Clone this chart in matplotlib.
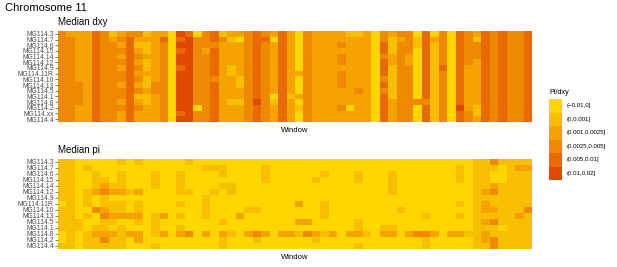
import numpy as np
import matplotlib.pyplot as plt
from matplotlib.colors import ListedColormap, BoundaryNorm
from matplotlib.patches import Rectangle

plt.rcParams['font.family'] = ['Liberation Sans', 'DejaVu Sans']

# levels: 0 (-0.01,0]  1 (0,0.001]  2 (0.001,0.0025]  3 (0.0025,0.005]  4 (0.005,0.01]  5 (0.01,0.02]
bins = ['(\u22120.01,0]', '(0,0.001]', '(0.001,0.0025]',
        '(0.0025,0.005]', '(0.005,0.01]', '(0.01,0.02]']
colors = ['#FFD600', '#F8BE00', '#F5A300', '#EF8A00', '#E96A00', '#E04A00']

dxy_samples = ['MG114.3', 'MG114.7', 'MG114.6', 'MG114.15', 'MG114.14', 'MG114.12',
               'MG114.9', 'MG114.11R', 'MG114.10', 'MG114.13', 'MG114.5', 'MG114.1',
               'MG114.8', 'MG114.2', 'MG114.xx', 'MG114.4']
pi_samples = ['MG114.3', 'MG114.7', 'MG114.6', 'MG114.15', 'MG114.14', 'MG114.12',
              'MG114.9', 'MG114.11R', 'MG114.10', 'MG114.13', 'MG114.5', 'MG114.1',
              'MG114.8', 'MG114.2', 'MG114.4']

# median dxy, one string per window (top sample first)
dxy_windows = [
    "3333333333333333", "2333333333333333", "2222222223333222", "2222222222222222",
    "4444444444444444", "3333333333333333", "1233333333333333", "2323232332332322",
    "3444444444444444", "3212323232312322", "1211211211211222", "2222222223322222",
    "2433333333333333", "0000000000000000", "5454554555555545", "4555555555555555",
    "0333333333333033", "3332333333333333", "4434444434444444", "1322222222222222",
    "2122221122221222", "2022222211221222", "3333333333333333", "4444444444445444",
    "3433333333333333", "2022222222201222", "4444444444444444", "2222222222212222",
    "0000000200020100", "3333333333333333", "2222222222222222", "2222222222222222",
    "2222222222222222", "2232332333222322", "1222222222222022", "1222222222322222",
    "2222222222222222", "0000000000000000", "3344344434344444", "2111221111112222",
    "3233333333333333", "3333223333333333", "0110000000003000", "4444444444443444",
    "0211111111111111", "3333334333333333", "0000000000000000", "4444444444444544",
    "3333332222222233", "2133322222222112", "4444444444444444", "3333333333333333",
    "4444444444444444", "3333333333333333", "3333333333333333", "4444444444444444",
]

# median pi, one string per sample (56 windows, grouped by 8)
pi_rows = [
    "11000001 01000001 00000000 00000000 00000000 00000000 01131111",
    "11010000 00000000 01110000 10000000 00000000 00000001 01110122",
    "11001001 00010010 00010000 10000001 00010001 00000001 01100111",
    "11001101 00010010 00000000 10000010 00010001 00000001 01100111",
    "11001211 00010010 00011000 00000000 00000001 00000000 01121111",
    "11012322 12000011 00101000 00000000 00000001 00000000 01231111",
    "11010100 00000000 01000000 00000000 00000000 00000000 01111111",
    "01010111 01000010 01000000 00002001 00000000 00000001 01211111",
    "11003211 01000000 01000011 00000001 00000000 10000000 01221113",
    "11010322 22012010 01000200 00000001 00000000 00010001 01111121",
    "11100110 01010000 00010000 00002200 00010000 00000000 01231111",
    "11101101 00010010 00000000 00000000 00010011 00000000 01110111",
    "01012221 22012023 02021023 20221321 20221022 02332022 11211111",
    "01011311 02000000 00010001 00000010 00000000 00010000 01231111",
    "11011111 00010000 00010000 00000000 00010000 00010000 01131111",
]

dxy = np.array([[int(c) for c in w] for w in dxy_windows]).T
pi = np.array([[int(c) for c in r.replace(' ', '')] for r in pi_rows])

cmap = ListedColormap(colors)
norm = BoundaryNorm(np.arange(-0.5, 6.5, 1), cmap.N)

W, H = 617, 267
fig = plt.figure(figsize=(W / 100, H / 100), dpi=100)


def panel(top, bottom, data, labels, title):
    ax = fig.add_axes([57.7 / W, 1 - bottom / H, 473.2 / W, (bottom - top) / H])
    n = data.shape[0]
    ax.imshow(data, cmap=cmap, norm=norm, aspect='auto', interpolation='nearest')
    ax.set_yticks(range(n))
    ax.set_yticklabels(labels, fontsize=4.9, color='#4D4D4D')
    ax.tick_params(axis='y', length=2, width=0.5, color='#4D4D4D', pad=0.8)
    ax.set_xticks([])
    for s in ax.spines.values():
        s.set_visible(False)
    ax.set_xlabel('Window', fontsize=5.5, labelpad=3.5)
    fig.text(58 / W, 1 - (top - 4) / H, title, fontsize=7, va='bottom', ha='left')
    return ax


panel(31, 122, dxy, dxy_samples, 'Median dxy')
panel(159, 249, pi, pi_samples, 'Median pi')

fig.text(5 / W, 1 - 13 / H, 'Chromosome 11', fontsize=8, va='bottom', ha='left')

# legend
fig.text(549 / W, 1 - 96 / H, 'Pi/dxy', fontsize=5.2, va='bottom', ha='left')
ky = 99
kh = 13.5
for i, (lab, c) in enumerate(zip(bins, colors)):
    y0 = ky + i * kh
    fig.patches.append(Rectangle((549.3 / W, 1 - (y0 + kh) / H), 12.8 / W, kh / H,
                                 transform=fig.transFigure, facecolor=c, edgecolor='none'))
    fig.text(566.5 / W, 1 - (y0 + kh / 2) / H, lab, fontsize=4.4, va='center', ha='left')

fig.savefig('out.png', dpi=100)
